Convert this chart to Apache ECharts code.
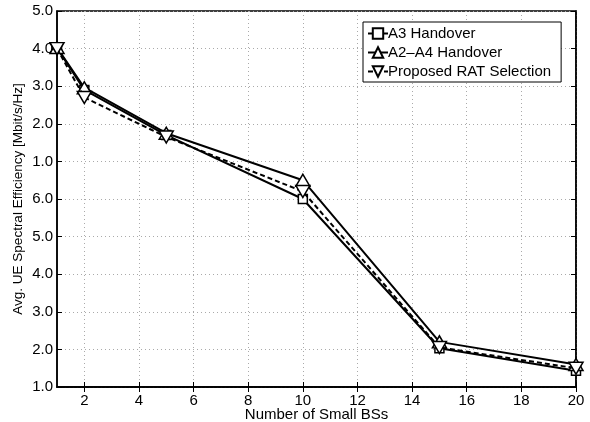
<!DOCTYPE html>
<html>
<head>
<meta charset="utf-8">
<script src="https://cdn.jsdelivr.net/npm/echarts@6/dist/echarts.min.js"></script>
<style>html,body{margin:0;padding:0;background:#fff;}#c{width:590px;height:422px;}</style>
</head>
<body>
<div id="c"></div>
<script>
// x categories (number of small BSs)
var smallBSs = [1, 2, 5, 10, 15, 20];
// series values, in axis position units (0..10); yTickLabels maps positions to printed labels
var a3Handover = [9.02, 7.9, 6.7, 5.0, 1.03, 0.43];
var a2a4Handover = [9.03, 7.96, 6.75, 5.5, 1.2, 0.6];
var proposedRAT = [9.0, 7.7, 6.65, 5.2, 1.05, 0.5];
// printed y tick labels from bottom (position 0) to top (position 10)
var yTickLabels = ['1.0','2.0','3.0','4.0','5.0','6.0','1.0','2.0','3.0','4.0','5.0'];
var xTickValues = [2, 4, 6, 8, 10, 12, 14, 16, 18, 20];

function pairs(vals){ return smallBSs.map(function(x,i){ return [x, vals[i]]; }); }

var font = 'Liberation Sans, Arial, Helvetica, sans-serif';
var chart = echarts.init(document.getElementById('c'), null, {renderer:'canvas'});
var axisLineStyle = {color:'#000', width:1.5};
chart.setOption({
  animation:false,
  backgroundColor:'#fff',
  grid:{left:57, right:14, top:11, bottom:35, show:true, borderColor:'#000', borderWidth:1.5, backgroundColor:'#fff',
        containLabel:false, outerBoundsMode:'none'},
  legend:{
    orient:'vertical', left:363, top:22,
    backgroundColor:'#fff', borderColor:'#000', borderWidth:1, borderRadius:0,
    padding:[4,10,3,4], itemGap:4, itemWidth:20, itemHeight:13,
    textStyle:{fontFamily:font, fontSize:15, color:'#000', padding:[0,0,0,-5]},
    data:['A3 Handover','A2\u2013A4 Handover','Proposed RAT Selection']
  },
  xAxis:[{
    type:'value', min:1, max:20,
    name:'Number of Small BSs', nameLocation:'middle', nameGap:20, nameMoveOverlap:false,
    nameTextStyle:{fontFamily:font, fontSize:15, color:'#000', verticalAlign:'top'},
    axisLine:{show:true, lineStyle:axisLineStyle},
    axisTick:{show:true, inside:true, length:5, lineStyle:{color:'#000', width:1}, customValues:xTickValues},
    axisLabel:{fontFamily:font, fontSize:15, color:'#000', margin:6, customValues:xTickValues},
    splitLine:{show:true, lineStyle:{color:'#aaa', type:[1,3], width:1}}
  },{
    type:'value', min:1, max:20, position:'top',
    axisLine:{show:true, lineStyle:axisLineStyle},
    axisTick:{show:true, inside:true, length:5, lineStyle:{color:'#000', width:1}, customValues:xTickValues},
    axisLabel:{show:false, customValues:xTickValues},
    splitLine:{show:false}
  }],
  yAxis:[{
    type:'value', min:0, max:10, interval:1,
    name:'Avg. UE Spectral Efficiency [Mbit/s/Hz]', nameLocation:'middle', nameGap:32, nameMoveOverlap:false,
    nameTextStyle:{fontFamily:font, fontSize:13.5, color:'#000'},
    axisLine:{show:true, lineStyle:axisLineStyle},
    axisTick:{show:true, inside:true, length:5, lineStyle:{color:'#000', width:1}},
    axisLabel:{fontFamily:font, fontSize:15, color:'#000', margin:4,
      formatter:function(v){ return yTickLabels[Math.round(v)]; }},
    splitLine:{show:true, lineStyle:{color:'#aaa', type:[1,3], width:1}}
  },{
    type:'value', min:0, max:10, interval:1, position:'right',
    axisLine:{show:true, lineStyle:axisLineStyle},
    axisTick:{show:true, inside:true, length:5, lineStyle:{color:'#000', width:1}},
    axisLabel:{show:false},
    splitLine:{show:false}
  }],
  series:[{
    name:'A3 Handover', type:'line', data:pairs(a3Handover),
    symbol:'rect', symbolSize:9,
    itemStyle:{color:'#fff', borderColor:'#000', borderWidth:1.5},
    lineStyle:{color:'#000', width:2, type:'solid'}, z:3
  },{
    name:'A2\u2013A4 Handover', type:'line', data:pairs(a2a4Handover),
    symbol:'triangle', symbolSize:[14,12],
    itemStyle:{color:'#fff', borderColor:'#000', borderWidth:1.5},
    lineStyle:{color:'#000', width:2, type:'solid'}, z:4
  },{
    name:'Proposed RAT Selection', type:'line', data:pairs(proposedRAT),
    symbol:'triangle', symbolRotate:180, symbolSize:[14,12],
    itemStyle:{color:'#fff', borderColor:'#000', borderWidth:1.5},
    lineStyle:{color:'#000', width:2, type:[5,3]}, z:5
  }]
});
</script>
</body>
</html>
